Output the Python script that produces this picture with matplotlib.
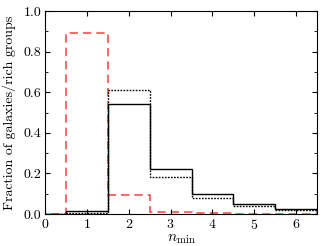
import matplotlib
matplotlib.use('Agg')
import matplotlib.pyplot as plt
from matplotlib.ticker import MultipleLocator

plt.rcParams['font.family'] = 'serif'
plt.rcParams['font.serif'] = ['cmr10']
plt.rcParams['mathtext.fontset'] = 'cm'
plt.rcParams['axes.formatter.use_mathtext'] = True
plt.rcParams['axes.unicode_minus'] = False

# bin edges for n_min histograms
edges = [-0.5, 0.5, 1.5, 2.5, 3.5, 4.5, 5.5, 6.5]
frac_solid = [0.0, 0.016, 0.543, 0.220, 0.098, 0.048, 0.026]
frac_dotted = [0.0, 0.005, 0.610, 0.182, 0.077, 0.041, 0.020]
frac_red = [0.0, 0.893, 0.092, 0.010, 0.003, 0.002, 0.002]

fig, ax = plt.subplots(figsize=(3.24, 2.46), dpi=100)

ax.stairs(frac_red, edges, color='#ff4d4d', ls=(0, (5, 3)), lw=1.2)
ax.stairs(frac_dotted, edges, color='black', ls=(0, (1.2, 1)), lw=1.0)
ax.stairs(frac_solid, edges, color='black', ls='-', lw=1.0)

ax.set_xlim(0, 6.5)
ax.set_ylim(0, 1.0)
ax.xaxis.set_major_locator(MultipleLocator(1))
ax.yaxis.set_major_locator(MultipleLocator(0.2))
ax.yaxis.set_minor_locator(MultipleLocator(0.1))
ax.yaxis.set_major_formatter(matplotlib.ticker.FormatStrFormatter('%.1f'))
ax.tick_params(which='both', direction='in', top=True, right=True, labelsize=10)
ax.tick_params(which='major', length=3.5, pad=3)
ax.tick_params(which='minor', length=2)

ax.set_xlabel(r'$n_{\rm min}$', fontsize=11, labelpad=0)
ax.set_ylabel('Fraction of galaxies/rich groups', fontsize=10, labelpad=5)

fig.subplots_adjust(left=0.14, right=0.978, top=0.955, bottom=0.13)
fig.savefig('out.png', dpi=100)
